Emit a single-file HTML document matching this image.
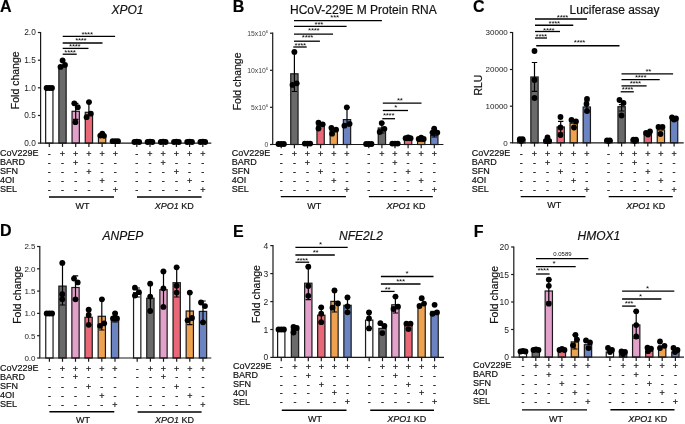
<!DOCTYPE html>
<html><head><meta charset="utf-8"><style>
html,body{margin:0;padding:0;background:#fff;width:685px;height:424px;overflow:hidden}
svg{display:block;will-change:transform;filter:blur(0.3px)}
text{font-family:"Liberation Sans", sans-serif;stroke:currentColor;stroke-width:0.18px;paint-order:stroke}
.ns{stroke:none}
</style></head><body>
<svg width="685" height="424" viewBox="0 0 685 424" font-family='"Liberation Sans", sans-serif'>
<rect width="685" height="424" fill="#fff"/>
<text x="0" y="11.6" font-size="16" font-weight="bold" fill="#000">A</text>
<text x="111.5" y="14.2" font-size="12" fill="#111" font-style="italic">XPO1</text>
<text transform="translate(18.5,80.3) rotate(-90)" text-anchor="middle" font-size="10.5" fill="#111">Fold change</text>
<rect x="45.65" y="87.8" width="7.3" height="55.3" fill="#ffffff" stroke="#1a1a1a" stroke-width="1.2"/>
<rect x="58.85" y="66.8" width="7.3" height="76.3" fill="#6a6a6a" stroke="#1a1a1a" stroke-width="1.2"/>
<rect x="72.05" y="111.3" width="7.3" height="31.8" fill="#e2a0ca" stroke="#1a1a1a" stroke-width="1.2"/>
<rect x="85.25" y="112.3" width="7.3" height="30.8" fill="#e86878" stroke="#1a1a1a" stroke-width="1.2"/>
<rect x="98.45" y="137.2" width="7.3" height="5.9" fill="#eea24f" stroke="#1a1a1a" stroke-width="1.2"/>
<rect x="111.65" y="142.2" width="7.3" height="0.9" fill="#6b83c0" stroke="#1a1a1a" stroke-width="1.2"/>
<rect x="133.15" y="142.2" width="7.3" height="0.9" fill="#ffffff" stroke="#1a1a1a" stroke-width="1.2"/>
<rect x="146.35" y="142.2" width="7.3" height="0.9" fill="#6a6a6a" stroke="#1a1a1a" stroke-width="1.2"/>
<rect x="159.55" y="142.2" width="7.3" height="0.9" fill="#e2a0ca" stroke="#1a1a1a" stroke-width="1.2"/>
<rect x="172.75" y="142.2" width="7.3" height="0.9" fill="#e86878" stroke="#1a1a1a" stroke-width="1.2"/>
<rect x="185.95" y="142.2" width="7.3" height="0.9" fill="#eea24f" stroke="#1a1a1a" stroke-width="1.2"/>
<rect x="199.15" y="142.2" width="7.3" height="0.9" fill="#6b83c0" stroke="#1a1a1a" stroke-width="1.2"/>
<path d="M40.6 31.9V143.1H211.3" fill="none" stroke="#1a1a1a" stroke-width="1.2"/>
<path d="M37.9 143.1H40.6" stroke="#1a1a1a" stroke-width="1.2"/>
<text x="35.8" y="146.07" text-anchor="end" font-size="8.3" fill="#222" class="ns">0.0</text>
<path d="M37.9 115.5H40.6" stroke="#1a1a1a" stroke-width="1.2"/>
<text x="35.8" y="118.47" text-anchor="end" font-size="8.3" fill="#222" class="ns">0.5</text>
<path d="M37.9 87.8H40.6" stroke="#1a1a1a" stroke-width="1.2"/>
<text x="35.8" y="90.77" text-anchor="end" font-size="8.3" fill="#222" class="ns">1.0</text>
<path d="M37.9 60.2H40.6" stroke="#1a1a1a" stroke-width="1.2"/>
<text x="35.8" y="63.17" text-anchor="end" font-size="8.3" fill="#222" class="ns">1.5</text>
<path d="M37.9 32.5H40.6" stroke="#1a1a1a" stroke-width="1.2"/>
<text x="35.8" y="35.47" text-anchor="end" font-size="8.3" fill="#222" class="ns">2.0</text>
<path d="M49.3 143.1V146.9" stroke="#1a1a1a" stroke-width="1.2"/>
<path d="M62.5 143.1V146.9" stroke="#1a1a1a" stroke-width="1.2"/>
<path d="M75.7 143.1V146.9" stroke="#1a1a1a" stroke-width="1.2"/>
<path d="M88.9 143.1V146.9" stroke="#1a1a1a" stroke-width="1.2"/>
<path d="M102.1 143.1V146.9" stroke="#1a1a1a" stroke-width="1.2"/>
<path d="M115.3 143.1V146.9" stroke="#1a1a1a" stroke-width="1.2"/>
<path d="M136.8 143.1V146.9" stroke="#1a1a1a" stroke-width="1.2"/>
<path d="M150 143.1V146.9" stroke="#1a1a1a" stroke-width="1.2"/>
<path d="M163.2 143.1V146.9" stroke="#1a1a1a" stroke-width="1.2"/>
<path d="M176.4 143.1V146.9" stroke="#1a1a1a" stroke-width="1.2"/>
<path d="M189.6 143.1V146.9" stroke="#1a1a1a" stroke-width="1.2"/>
<path d="M202.8 143.1V146.9" stroke="#1a1a1a" stroke-width="1.2"/>
<path d="M75.7 103.3V119.3M73 103.3H78.4M73 119.3H78.4" stroke="#000" stroke-width="1.2" fill="none"/>
<path d="M88.9 102.1V115M86.2 102.1H91.6M86.2 115H91.6" stroke="#000" stroke-width="1.2" fill="none"/>
<circle cx="46.6" cy="88" r="2.9" fill="#000"/>
<circle cx="49.3" cy="88" r="2.9" fill="#000"/>
<circle cx="52" cy="88" r="2.9" fill="#000"/>
<circle cx="62.6" cy="60.4" r="2.9" fill="#000"/>
<circle cx="60.5" cy="66.9" r="2.9" fill="#000"/>
<circle cx="65" cy="64.9" r="2.9" fill="#000"/>
<circle cx="74.3" cy="103.3" r="2.9" fill="#000"/>
<circle cx="77.8" cy="107.2" r="2.9" fill="#000"/>
<circle cx="75.4" cy="122.2" r="2.9" fill="#000"/>
<circle cx="89" cy="102.1" r="2.9" fill="#000"/>
<circle cx="90.8" cy="113.7" r="2.9" fill="#000"/>
<circle cx="86.6" cy="117.2" r="2.9" fill="#000"/>
<circle cx="100.3" cy="135.6" r="2.9" fill="#000"/>
<circle cx="102.3" cy="133.6" r="2.9" fill="#000"/>
<circle cx="104" cy="135.8" r="2.9" fill="#000"/>
<circle cx="112.6" cy="141.2" r="2.9" fill="#000"/>
<circle cx="115.3" cy="141.2" r="2.9" fill="#000"/>
<circle cx="118" cy="141.2" r="2.9" fill="#000"/>
<circle cx="134.4" cy="142" r="2.9" fill="#000"/>
<circle cx="136.8" cy="141.6" r="2.9" fill="#000"/>
<circle cx="139.2" cy="142" r="2.9" fill="#000"/>
<circle cx="147.6" cy="142" r="2.9" fill="#000"/>
<circle cx="150" cy="141.6" r="2.9" fill="#000"/>
<circle cx="152.4" cy="142" r="2.9" fill="#000"/>
<circle cx="160.8" cy="142" r="2.9" fill="#000"/>
<circle cx="163.2" cy="141.6" r="2.9" fill="#000"/>
<circle cx="165.6" cy="142" r="2.9" fill="#000"/>
<circle cx="174" cy="142" r="2.9" fill="#000"/>
<circle cx="176.4" cy="141.6" r="2.9" fill="#000"/>
<circle cx="178.8" cy="142" r="2.9" fill="#000"/>
<circle cx="187.2" cy="142" r="2.9" fill="#000"/>
<circle cx="189.6" cy="141.6" r="2.9" fill="#000"/>
<circle cx="192" cy="142" r="2.9" fill="#000"/>
<circle cx="200.4" cy="142" r="2.9" fill="#000"/>
<circle cx="202.8" cy="141.6" r="2.9" fill="#000"/>
<circle cx="205.2" cy="142" r="2.9" fill="#000"/>
<path d="M62.7 36.4H115.1" stroke="#000" stroke-width="1.3"/>
<text x="87.1" y="36.5" text-anchor="middle" font-size="8" letter-spacing="-0.3" fill="#000" class="ns">****</text>
<path d="M62.7 43H102.5" stroke="#000" stroke-width="1.3"/>
<text x="80.8" y="43.1" text-anchor="middle" font-size="8" letter-spacing="-0.3" fill="#000" class="ns">****</text>
<path d="M62.7 48.4H88.5" stroke="#000" stroke-width="1.3"/>
<text x="74.7" y="49.2" text-anchor="middle" font-size="8" letter-spacing="-0.3" fill="#000" class="ns">****</text>
<path d="M62.7 54.2H76.7" stroke="#000" stroke-width="1.3"/>
<text x="70" y="54.6" text-anchor="middle" font-size="8" letter-spacing="-0.3" fill="#000" class="ns">****</text>
<text x="0" y="155.9" font-size="9" fill="#111">CoV229E</text>
<text x="49.3" y="156.8" text-anchor="middle" font-size="9" fill="#111">-</text>
<text x="62.5" y="156.8" text-anchor="middle" font-size="9" fill="#111">+</text>
<text x="75.7" y="156.8" text-anchor="middle" font-size="9" fill="#111">+</text>
<text x="88.9" y="156.8" text-anchor="middle" font-size="9" fill="#111">+</text>
<text x="102.1" y="156.8" text-anchor="middle" font-size="9" fill="#111">+</text>
<text x="115.3" y="156.8" text-anchor="middle" font-size="9" fill="#111">+</text>
<text x="136.8" y="156.8" text-anchor="middle" font-size="9" fill="#111">-</text>
<text x="150" y="156.8" text-anchor="middle" font-size="9" fill="#111">+</text>
<text x="163.2" y="156.8" text-anchor="middle" font-size="9" fill="#111">+</text>
<text x="176.4" y="156.8" text-anchor="middle" font-size="9" fill="#111">+</text>
<text x="189.6" y="156.8" text-anchor="middle" font-size="9" fill="#111">+</text>
<text x="202.8" y="156.8" text-anchor="middle" font-size="9" fill="#111">+</text>
<text x="0" y="164.9" font-size="9" fill="#111">BARD</text>
<text x="49.3" y="165.8" text-anchor="middle" font-size="9" fill="#111">-</text>
<text x="62.5" y="165.8" text-anchor="middle" font-size="9" fill="#111">-</text>
<text x="75.7" y="165.8" text-anchor="middle" font-size="9" fill="#111">+</text>
<text x="88.9" y="165.8" text-anchor="middle" font-size="9" fill="#111">-</text>
<text x="102.1" y="165.8" text-anchor="middle" font-size="9" fill="#111">-</text>
<text x="115.3" y="165.8" text-anchor="middle" font-size="9" fill="#111">-</text>
<text x="136.8" y="165.8" text-anchor="middle" font-size="9" fill="#111">-</text>
<text x="150" y="165.8" text-anchor="middle" font-size="9" fill="#111">-</text>
<text x="163.2" y="165.8" text-anchor="middle" font-size="9" fill="#111">+</text>
<text x="176.4" y="165.8" text-anchor="middle" font-size="9" fill="#111">-</text>
<text x="189.6" y="165.8" text-anchor="middle" font-size="9" fill="#111">-</text>
<text x="202.8" y="165.8" text-anchor="middle" font-size="9" fill="#111">-</text>
<text x="0" y="173.9" font-size="9" fill="#111">SFN</text>
<text x="49.3" y="174.8" text-anchor="middle" font-size="9" fill="#111">-</text>
<text x="62.5" y="174.8" text-anchor="middle" font-size="9" fill="#111">-</text>
<text x="75.7" y="174.8" text-anchor="middle" font-size="9" fill="#111">-</text>
<text x="88.9" y="174.8" text-anchor="middle" font-size="9" fill="#111">+</text>
<text x="102.1" y="174.8" text-anchor="middle" font-size="9" fill="#111">-</text>
<text x="115.3" y="174.8" text-anchor="middle" font-size="9" fill="#111">-</text>
<text x="136.8" y="174.8" text-anchor="middle" font-size="9" fill="#111">-</text>
<text x="150" y="174.8" text-anchor="middle" font-size="9" fill="#111">-</text>
<text x="163.2" y="174.8" text-anchor="middle" font-size="9" fill="#111">-</text>
<text x="176.4" y="174.8" text-anchor="middle" font-size="9" fill="#111">+</text>
<text x="189.6" y="174.8" text-anchor="middle" font-size="9" fill="#111">-</text>
<text x="202.8" y="174.8" text-anchor="middle" font-size="9" fill="#111">-</text>
<text x="0" y="182.9" font-size="9" fill="#111">4OI</text>
<text x="49.3" y="183.8" text-anchor="middle" font-size="9" fill="#111">-</text>
<text x="62.5" y="183.8" text-anchor="middle" font-size="9" fill="#111">-</text>
<text x="75.7" y="183.8" text-anchor="middle" font-size="9" fill="#111">-</text>
<text x="88.9" y="183.8" text-anchor="middle" font-size="9" fill="#111">-</text>
<text x="102.1" y="183.8" text-anchor="middle" font-size="9" fill="#111">+</text>
<text x="115.3" y="183.8" text-anchor="middle" font-size="9" fill="#111">-</text>
<text x="136.8" y="183.8" text-anchor="middle" font-size="9" fill="#111">-</text>
<text x="150" y="183.8" text-anchor="middle" font-size="9" fill="#111">-</text>
<text x="163.2" y="183.8" text-anchor="middle" font-size="9" fill="#111">-</text>
<text x="176.4" y="183.8" text-anchor="middle" font-size="9" fill="#111">-</text>
<text x="189.6" y="183.8" text-anchor="middle" font-size="9" fill="#111">+</text>
<text x="202.8" y="183.8" text-anchor="middle" font-size="9" fill="#111">-</text>
<text x="0" y="191.9" font-size="9" fill="#111">SEL</text>
<text x="49.3" y="192.8" text-anchor="middle" font-size="9" fill="#111">-</text>
<text x="62.5" y="192.8" text-anchor="middle" font-size="9" fill="#111">-</text>
<text x="75.7" y="192.8" text-anchor="middle" font-size="9" fill="#111">-</text>
<text x="88.9" y="192.8" text-anchor="middle" font-size="9" fill="#111">-</text>
<text x="102.1" y="192.8" text-anchor="middle" font-size="9" fill="#111">-</text>
<text x="115.3" y="192.8" text-anchor="middle" font-size="9" fill="#111">+</text>
<text x="136.8" y="192.8" text-anchor="middle" font-size="9" fill="#111">-</text>
<text x="150" y="192.8" text-anchor="middle" font-size="9" fill="#111">-</text>
<text x="163.2" y="192.8" text-anchor="middle" font-size="9" fill="#111">-</text>
<text x="176.4" y="192.8" text-anchor="middle" font-size="9" fill="#111">-</text>
<text x="189.6" y="192.8" text-anchor="middle" font-size="9" fill="#111">-</text>
<text x="202.8" y="192.8" text-anchor="middle" font-size="9" fill="#111">+</text>
<path d="M49 197H114" stroke="#000" stroke-width="1.4"/>
<text x="75.6" y="209" font-size="9" fill="#111">WT</text>
<path d="M137 197H201.6" stroke="#000" stroke-width="1.4"/>
<text x="154.8" y="208.6" font-size="9" fill="#111"><tspan font-style="italic">XPO1</tspan> KD</text>
<text x="232.8" y="11.6" font-size="16" font-weight="bold" fill="#000">B</text>
<text x="290" y="13.9" font-size="12" fill="#111">HCoV-229E M Protein RNA</text>
<text transform="translate(240.9,81.4) rotate(-90)" text-anchor="middle" font-size="10.5" fill="#111">Fold change</text>
<rect x="277.55" y="143.9" width="7.3" height="0.6" fill="#ffffff" stroke="#1a1a1a" stroke-width="1.2"/>
<rect x="290.75" y="73.8" width="7.3" height="70.7" fill="#6a6a6a" stroke="#1a1a1a" stroke-width="1.2"/>
<rect x="303.85" y="143.6" width="7.3" height="0.9" fill="#e2a0ca" stroke="#1a1a1a" stroke-width="1.2"/>
<rect x="316.95" y="125.5" width="7.3" height="19" fill="#e86878" stroke="#1a1a1a" stroke-width="1.2"/>
<rect x="330.15" y="130.4" width="7.3" height="14.1" fill="#eea24f" stroke="#1a1a1a" stroke-width="1.2"/>
<rect x="343.35" y="119.6" width="7.3" height="24.9" fill="#6b83c0" stroke="#1a1a1a" stroke-width="1.2"/>
<rect x="365.15" y="143.9" width="7.3" height="0.6" fill="#ffffff" stroke="#1a1a1a" stroke-width="1.2"/>
<rect x="378.25" y="128" width="7.3" height="16.5" fill="#6a6a6a" stroke="#1a1a1a" stroke-width="1.2"/>
<rect x="391.35" y="143.6" width="7.3" height="0.9" fill="#e2a0ca" stroke="#1a1a1a" stroke-width="1.2"/>
<rect x="404.45" y="140.5" width="7.3" height="4" fill="#e86878" stroke="#1a1a1a" stroke-width="1.2"/>
<rect x="417.55" y="141.5" width="7.3" height="3" fill="#eea24f" stroke="#1a1a1a" stroke-width="1.2"/>
<rect x="430.65" y="135.5" width="7.3" height="9" fill="#6b83c0" stroke="#1a1a1a" stroke-width="1.2"/>
<path d="M272.7 32.6V144.5H443.4" fill="none" stroke="#1a1a1a" stroke-width="1.2"/>
<path d="M270 144.5H272.7" stroke="#1a1a1a" stroke-width="1.2"/>
<text x="268.3" y="146.93" text-anchor="end" font-size="6.8" fill="#444" class="ns">0</text>
<path d="M270 107.3H272.7" stroke="#1a1a1a" stroke-width="1.2"/>
<text x="268.3" y="109.73" text-anchor="end" font-size="6.8" fill="#444" class="ns">5x10<tspan font-size="4.4" dy="-2.4">6</tspan></text>
<path d="M270 70.3H272.7" stroke="#1a1a1a" stroke-width="1.2"/>
<text x="268.3" y="72.73" text-anchor="end" font-size="6.8" fill="#444" class="ns">10x10<tspan font-size="4.4" dy="-2.4">6</tspan></text>
<path d="M270 33.2H272.7" stroke="#1a1a1a" stroke-width="1.2"/>
<text x="268.3" y="35.63" text-anchor="end" font-size="6.8" fill="#444" class="ns">15x10<tspan font-size="4.4" dy="-2.4">6</tspan></text>
<path d="M281.2 144.5V148.3" stroke="#1a1a1a" stroke-width="1.2"/>
<path d="M294.4 144.5V148.3" stroke="#1a1a1a" stroke-width="1.2"/>
<path d="M307.5 144.5V148.3" stroke="#1a1a1a" stroke-width="1.2"/>
<path d="M320.6 144.5V148.3" stroke="#1a1a1a" stroke-width="1.2"/>
<path d="M333.8 144.5V148.3" stroke="#1a1a1a" stroke-width="1.2"/>
<path d="M347 144.5V148.3" stroke="#1a1a1a" stroke-width="1.2"/>
<path d="M368.8 144.5V148.3" stroke="#1a1a1a" stroke-width="1.2"/>
<path d="M381.9 144.5V148.3" stroke="#1a1a1a" stroke-width="1.2"/>
<path d="M395 144.5V148.3" stroke="#1a1a1a" stroke-width="1.2"/>
<path d="M408.1 144.5V148.3" stroke="#1a1a1a" stroke-width="1.2"/>
<path d="M421.2 144.5V148.3" stroke="#1a1a1a" stroke-width="1.2"/>
<path d="M434.3 144.5V148.3" stroke="#1a1a1a" stroke-width="1.2"/>
<path d="M294.4 51.9V91.5M291.7 51.9H297.1M291.7 91.5H297.1" stroke="#000" stroke-width="1.2" fill="none"/>
<path d="M347 107.3V126M344.3 107.3H349.7M344.3 126H349.7" stroke="#000" stroke-width="1.2" fill="none"/>
<path d="M381.9 123V133M379.2 123H384.6M379.2 133H384.6" stroke="#000" stroke-width="1.2" fill="none"/>
<path d="M434.3 128.7V137M431.6 128.7H437M431.6 137H437" stroke="#000" stroke-width="1.2" fill="none"/>
<circle cx="278.5" cy="144" r="2.9" fill="#000"/>
<circle cx="281.2" cy="144" r="2.9" fill="#000"/>
<circle cx="283.9" cy="144" r="2.9" fill="#000"/>
<circle cx="294.4" cy="51.9" r="2.9" fill="#000"/>
<circle cx="292.5" cy="84.9" r="2.9" fill="#000"/>
<circle cx="296.7" cy="83.3" r="2.9" fill="#000"/>
<circle cx="304.8" cy="143.6" r="2.9" fill="#000"/>
<circle cx="307.5" cy="143.6" r="2.9" fill="#000"/>
<circle cx="310.2" cy="143.6" r="2.9" fill="#000"/>
<circle cx="318.5" cy="122.7" r="2.9" fill="#000"/>
<circle cx="322.7" cy="124.3" r="2.9" fill="#000"/>
<circle cx="318.5" cy="128.5" r="2.9" fill="#000"/>
<circle cx="331.4" cy="127.8" r="2.9" fill="#000"/>
<circle cx="336.1" cy="129.7" r="2.9" fill="#000"/>
<circle cx="332.1" cy="133.7" r="2.9" fill="#000"/>
<circle cx="346.8" cy="107.3" r="2.9" fill="#000"/>
<circle cx="344.4" cy="125.7" r="2.9" fill="#000"/>
<circle cx="349.6" cy="123.8" r="2.9" fill="#000"/>
<circle cx="366.1" cy="144" r="2.9" fill="#000"/>
<circle cx="368.8" cy="144" r="2.9" fill="#000"/>
<circle cx="371.5" cy="144" r="2.9" fill="#000"/>
<circle cx="381.7" cy="123.1" r="2.9" fill="#000"/>
<circle cx="384.4" cy="128.8" r="2.9" fill="#000"/>
<circle cx="379.7" cy="132" r="2.9" fill="#000"/>
<circle cx="392.3" cy="143.6" r="2.9" fill="#000"/>
<circle cx="395" cy="143.6" r="2.9" fill="#000"/>
<circle cx="397.7" cy="143.6" r="2.9" fill="#000"/>
<circle cx="405.6" cy="138.2" r="2.9" fill="#000"/>
<circle cx="408.1" cy="137.4" r="2.9" fill="#000"/>
<circle cx="410.6" cy="138.2" r="2.9" fill="#000"/>
<circle cx="418.7" cy="139" r="2.9" fill="#000"/>
<circle cx="421.2" cy="137.6" r="2.9" fill="#000"/>
<circle cx="423.7" cy="139" r="2.9" fill="#000"/>
<circle cx="434.2" cy="128.7" r="2.9" fill="#000"/>
<circle cx="432.5" cy="132.6" r="2.9" fill="#000"/>
<circle cx="437.3" cy="132.6" r="2.9" fill="#000"/>
<path d="M294 20.6H381.9" stroke="#000" stroke-width="1.3"/>
<text x="334.6" y="19.9" text-anchor="middle" font-size="8" letter-spacing="-0.3" fill="#000" class="ns">***</text>
<path d="M294 26.4H346.6" stroke="#000" stroke-width="1.3"/>
<text x="318.8" y="27.2" text-anchor="middle" font-size="8" letter-spacing="-0.3" fill="#000" class="ns">***</text>
<path d="M294 34.1H333" stroke="#000" stroke-width="1.3"/>
<text x="313.7" y="33.2" text-anchor="middle" font-size="8" letter-spacing="-0.3" fill="#000" class="ns">****</text>
<path d="M294 41.2H319.9" stroke="#000" stroke-width="1.3"/>
<text x="307.5" y="40.4" text-anchor="middle" font-size="8" letter-spacing="-0.3" fill="#000" class="ns">****</text>
<path d="M293.3 47H306.7" stroke="#000" stroke-width="1.3"/>
<text x="300.2" y="48.1" text-anchor="middle" font-size="8" letter-spacing="-0.3" fill="#000" class="ns">****</text>
<path d="M382.8 103.1H421.5" stroke="#000" stroke-width="1.3"/>
<text x="399.7" y="102.6" text-anchor="middle" font-size="8" letter-spacing="-0.3" fill="#000" class="ns">**</text>
<path d="M382.8 110.5H408" stroke="#000" stroke-width="1.3"/>
<text x="395.6" y="109.6" text-anchor="middle" font-size="8" letter-spacing="-0.3" fill="#000" class="ns">*</text>
<path d="M382.3 118.7H395" stroke="#000" stroke-width="1.3"/>
<text x="388.6" y="117.9" text-anchor="middle" font-size="8" letter-spacing="-0.3" fill="#000" class="ns">****</text>
<text x="231.8" y="155.9" font-size="9" fill="#111">CoV229E</text>
<text x="281.2" y="156.8" text-anchor="middle" font-size="9" fill="#111">-</text>
<text x="294.4" y="156.8" text-anchor="middle" font-size="9" fill="#111">+</text>
<text x="307.5" y="156.8" text-anchor="middle" font-size="9" fill="#111">+</text>
<text x="320.6" y="156.8" text-anchor="middle" font-size="9" fill="#111">+</text>
<text x="333.8" y="156.8" text-anchor="middle" font-size="9" fill="#111">+</text>
<text x="347" y="156.8" text-anchor="middle" font-size="9" fill="#111">+</text>
<text x="368.8" y="156.8" text-anchor="middle" font-size="9" fill="#111">-</text>
<text x="381.9" y="156.8" text-anchor="middle" font-size="9" fill="#111">+</text>
<text x="395" y="156.8" text-anchor="middle" font-size="9" fill="#111">+</text>
<text x="408.1" y="156.8" text-anchor="middle" font-size="9" fill="#111">+</text>
<text x="421.2" y="156.8" text-anchor="middle" font-size="9" fill="#111">+</text>
<text x="434.3" y="156.8" text-anchor="middle" font-size="9" fill="#111">+</text>
<text x="231.8" y="164.9" font-size="9" fill="#111">BARD</text>
<text x="281.2" y="165.8" text-anchor="middle" font-size="9" fill="#111">-</text>
<text x="294.4" y="165.8" text-anchor="middle" font-size="9" fill="#111">-</text>
<text x="307.5" y="165.8" text-anchor="middle" font-size="9" fill="#111">+</text>
<text x="320.6" y="165.8" text-anchor="middle" font-size="9" fill="#111">-</text>
<text x="333.8" y="165.8" text-anchor="middle" font-size="9" fill="#111">-</text>
<text x="347" y="165.8" text-anchor="middle" font-size="9" fill="#111">-</text>
<text x="368.8" y="165.8" text-anchor="middle" font-size="9" fill="#111">-</text>
<text x="381.9" y="165.8" text-anchor="middle" font-size="9" fill="#111">-</text>
<text x="395" y="165.8" text-anchor="middle" font-size="9" fill="#111">+</text>
<text x="408.1" y="165.8" text-anchor="middle" font-size="9" fill="#111">-</text>
<text x="421.2" y="165.8" text-anchor="middle" font-size="9" fill="#111">-</text>
<text x="434.3" y="165.8" text-anchor="middle" font-size="9" fill="#111">-</text>
<text x="231.8" y="173.9" font-size="9" fill="#111">SFN</text>
<text x="281.2" y="174.8" text-anchor="middle" font-size="9" fill="#111">-</text>
<text x="294.4" y="174.8" text-anchor="middle" font-size="9" fill="#111">-</text>
<text x="307.5" y="174.8" text-anchor="middle" font-size="9" fill="#111">-</text>
<text x="320.6" y="174.8" text-anchor="middle" font-size="9" fill="#111">+</text>
<text x="333.8" y="174.8" text-anchor="middle" font-size="9" fill="#111">-</text>
<text x="347" y="174.8" text-anchor="middle" font-size="9" fill="#111">-</text>
<text x="368.8" y="174.8" text-anchor="middle" font-size="9" fill="#111">-</text>
<text x="381.9" y="174.8" text-anchor="middle" font-size="9" fill="#111">-</text>
<text x="395" y="174.8" text-anchor="middle" font-size="9" fill="#111">-</text>
<text x="408.1" y="174.8" text-anchor="middle" font-size="9" fill="#111">+</text>
<text x="421.2" y="174.8" text-anchor="middle" font-size="9" fill="#111">-</text>
<text x="434.3" y="174.8" text-anchor="middle" font-size="9" fill="#111">-</text>
<text x="231.8" y="182.9" font-size="9" fill="#111">4OI</text>
<text x="281.2" y="183.8" text-anchor="middle" font-size="9" fill="#111">-</text>
<text x="294.4" y="183.8" text-anchor="middle" font-size="9" fill="#111">-</text>
<text x="307.5" y="183.8" text-anchor="middle" font-size="9" fill="#111">-</text>
<text x="320.6" y="183.8" text-anchor="middle" font-size="9" fill="#111">-</text>
<text x="333.8" y="183.8" text-anchor="middle" font-size="9" fill="#111">+</text>
<text x="347" y="183.8" text-anchor="middle" font-size="9" fill="#111">-</text>
<text x="368.8" y="183.8" text-anchor="middle" font-size="9" fill="#111">-</text>
<text x="381.9" y="183.8" text-anchor="middle" font-size="9" fill="#111">-</text>
<text x="395" y="183.8" text-anchor="middle" font-size="9" fill="#111">-</text>
<text x="408.1" y="183.8" text-anchor="middle" font-size="9" fill="#111">-</text>
<text x="421.2" y="183.8" text-anchor="middle" font-size="9" fill="#111">+</text>
<text x="434.3" y="183.8" text-anchor="middle" font-size="9" fill="#111">-</text>
<text x="231.8" y="191.9" font-size="9" fill="#111">SEL</text>
<text x="281.2" y="192.8" text-anchor="middle" font-size="9" fill="#111">-</text>
<text x="294.4" y="192.8" text-anchor="middle" font-size="9" fill="#111">-</text>
<text x="307.5" y="192.8" text-anchor="middle" font-size="9" fill="#111">-</text>
<text x="320.6" y="192.8" text-anchor="middle" font-size="9" fill="#111">-</text>
<text x="333.8" y="192.8" text-anchor="middle" font-size="9" fill="#111">-</text>
<text x="347" y="192.8" text-anchor="middle" font-size="9" fill="#111">+</text>
<text x="368.8" y="192.8" text-anchor="middle" font-size="9" fill="#111">-</text>
<text x="381.9" y="192.8" text-anchor="middle" font-size="9" fill="#111">-</text>
<text x="395" y="192.8" text-anchor="middle" font-size="9" fill="#111">-</text>
<text x="408.1" y="192.8" text-anchor="middle" font-size="9" fill="#111">-</text>
<text x="421.2" y="192.8" text-anchor="middle" font-size="9" fill="#111">-</text>
<text x="434.3" y="192.8" text-anchor="middle" font-size="9" fill="#111">+</text>
<path d="M280.8 196.6H345.9" stroke="#000" stroke-width="1.4"/>
<text x="307.2" y="208.6" font-size="9" fill="#111">WT</text>
<path d="M368.9 196.6H432.8" stroke="#000" stroke-width="1.4"/>
<text x="386.4" y="208.6" font-size="9" fill="#111"><tspan font-style="italic">XPO1</tspan> KD</text>
<text x="473" y="11.6" font-size="16" font-weight="bold" fill="#000">C</text>
<text x="569.5" y="14.2" font-size="12" fill="#111">Luciferase assay</text>
<text transform="translate(481.9,85.1) rotate(-90)" text-anchor="middle" font-size="10.5" fill="#111">RLU</text>
<rect x="517.65" y="139.5" width="7.3" height="3.3" fill="#ffffff" stroke="#1a1a1a" stroke-width="1.2"/>
<rect x="530.85" y="77" width="7.3" height="65.8" fill="#6a6a6a" stroke="#1a1a1a" stroke-width="1.2"/>
<rect x="543.95" y="140" width="7.3" height="2.8" fill="#e2a0ca" stroke="#1a1a1a" stroke-width="1.2"/>
<rect x="557.05" y="127" width="7.3" height="15.8" fill="#e86878" stroke="#1a1a1a" stroke-width="1.2"/>
<rect x="570.05" y="123.2" width="7.3" height="19.6" fill="#eea24f" stroke="#1a1a1a" stroke-width="1.2"/>
<rect x="583.15" y="107" width="7.3" height="35.8" fill="#6b83c0" stroke="#1a1a1a" stroke-width="1.2"/>
<rect x="604.85" y="140.5" width="7.3" height="2.3" fill="#ffffff" stroke="#1a1a1a" stroke-width="1.2"/>
<rect x="617.95" y="106.7" width="7.3" height="36.1" fill="#6a6a6a" stroke="#1a1a1a" stroke-width="1.2"/>
<rect x="631.05" y="140" width="7.3" height="2.8" fill="#e2a0ca" stroke="#1a1a1a" stroke-width="1.2"/>
<rect x="644.15" y="134.3" width="7.3" height="8.5" fill="#e86878" stroke="#1a1a1a" stroke-width="1.2"/>
<rect x="657.25" y="130" width="7.3" height="12.8" fill="#eea24f" stroke="#1a1a1a" stroke-width="1.2"/>
<rect x="670.45" y="120.5" width="7.3" height="22.3" fill="#6b83c0" stroke="#1a1a1a" stroke-width="1.2"/>
<path d="M512.6 31.9V142.8H683.7" fill="none" stroke="#1a1a1a" stroke-width="1.2"/>
<path d="M509.9 142.8H512.6" stroke="#1a1a1a" stroke-width="1.2"/>
<text x="507.8" y="145.66" text-anchor="end" font-size="8" fill="#222" class="ns">0</text>
<path d="M509.9 106.2H512.6" stroke="#1a1a1a" stroke-width="1.2"/>
<text x="507.8" y="109.06" text-anchor="end" font-size="8" fill="#222" class="ns">10000</text>
<path d="M509.9 69.5H512.6" stroke="#1a1a1a" stroke-width="1.2"/>
<text x="507.8" y="72.36" text-anchor="end" font-size="8" fill="#222" class="ns">20000</text>
<path d="M509.9 32.5H512.6" stroke="#1a1a1a" stroke-width="1.2"/>
<text x="507.8" y="35.36" text-anchor="end" font-size="8" fill="#222" class="ns">30000</text>
<path d="M521.3 142.8V146.6" stroke="#1a1a1a" stroke-width="1.2"/>
<path d="M534.5 142.8V146.6" stroke="#1a1a1a" stroke-width="1.2"/>
<path d="M547.6 142.8V146.6" stroke="#1a1a1a" stroke-width="1.2"/>
<path d="M560.7 142.8V146.6" stroke="#1a1a1a" stroke-width="1.2"/>
<path d="M573.7 142.8V146.6" stroke="#1a1a1a" stroke-width="1.2"/>
<path d="M586.8 142.8V146.6" stroke="#1a1a1a" stroke-width="1.2"/>
<path d="M608.5 142.8V146.6" stroke="#1a1a1a" stroke-width="1.2"/>
<path d="M621.6 142.8V146.6" stroke="#1a1a1a" stroke-width="1.2"/>
<path d="M634.7 142.8V146.6" stroke="#1a1a1a" stroke-width="1.2"/>
<path d="M647.8 142.8V146.6" stroke="#1a1a1a" stroke-width="1.2"/>
<path d="M660.9 142.8V146.6" stroke="#1a1a1a" stroke-width="1.2"/>
<path d="M674.1 142.8V146.6" stroke="#1a1a1a" stroke-width="1.2"/>
<path d="M534.5 62.5V91.3M531.8 62.5H537.2M531.8 91.3H537.2" stroke="#000" stroke-width="1.2" fill="none"/>
<path d="M560.7 121.3V133M558 121.3H563.4M558 133H563.4" stroke="#000" stroke-width="1.2" fill="none"/>
<path d="M586.8 101V112M584.1 101H589.5M584.1 112H589.5" stroke="#000" stroke-width="1.2" fill="none"/>
<path d="M621.6 104.6V111M618.9 104.6H624.3M618.9 111H624.3" stroke="#000" stroke-width="1.2" fill="none"/>
<circle cx="519.8" cy="139.2" r="2.9" fill="#000"/>
<circle cx="522.6" cy="139.2" r="2.9" fill="#000"/>
<circle cx="521.2" cy="141" r="2.9" fill="#000"/>
<circle cx="534.5" cy="51" r="2.9" fill="#000"/>
<circle cx="534.5" cy="80" r="2.9" fill="#000"/>
<circle cx="534.5" cy="98" r="2.9" fill="#000"/>
<circle cx="547.5" cy="137.5" r="2.9" fill="#000"/>
<circle cx="546" cy="141" r="2.9" fill="#000"/>
<circle cx="549" cy="141" r="2.9" fill="#000"/>
<circle cx="560.5" cy="117" r="2.9" fill="#000"/>
<circle cx="560.5" cy="127.5" r="2.9" fill="#000"/>
<circle cx="560.5" cy="135" r="2.9" fill="#000"/>
<circle cx="571.5" cy="120" r="2.9" fill="#000"/>
<circle cx="576" cy="121.5" r="2.9" fill="#000"/>
<circle cx="574" cy="127.5" r="2.9" fill="#000"/>
<circle cx="587" cy="99" r="2.9" fill="#000"/>
<circle cx="586.5" cy="104" r="2.9" fill="#000"/>
<circle cx="587" cy="111" r="2.9" fill="#000"/>
<circle cx="607" cy="140.3" r="2.9" fill="#000"/>
<circle cx="609.8" cy="140.3" r="2.9" fill="#000"/>
<circle cx="608.5" cy="141" r="2.9" fill="#000"/>
<circle cx="619.5" cy="100" r="2.9" fill="#000"/>
<circle cx="623.5" cy="103" r="2.9" fill="#000"/>
<circle cx="621.5" cy="115.5" r="2.9" fill="#000"/>
<circle cx="633.4" cy="139.6" r="2.9" fill="#000"/>
<circle cx="636" cy="139.6" r="2.9" fill="#000"/>
<circle cx="634.7" cy="141" r="2.9" fill="#000"/>
<circle cx="646" cy="133" r="2.9" fill="#000"/>
<circle cx="650" cy="131.5" r="2.9" fill="#000"/>
<circle cx="648" cy="134.5" r="2.9" fill="#000"/>
<circle cx="658.5" cy="127" r="2.9" fill="#000"/>
<circle cx="662.5" cy="127" r="2.9" fill="#000"/>
<circle cx="660.5" cy="134" r="2.9" fill="#000"/>
<circle cx="672" cy="117.5" r="2.9" fill="#000"/>
<circle cx="676" cy="118.5" r="2.9" fill="#000"/>
<circle cx="674" cy="119.5" r="2.9" fill="#000"/>
<path d="M535 19H587" stroke="#000" stroke-width="1.3"/>
<text x="562.5" y="20.15" text-anchor="middle" font-size="8" letter-spacing="-0.3" fill="#000" class="ns">****</text>
<path d="M535 25.25H573.25" stroke="#000" stroke-width="1.3"/>
<text x="554.25" y="26.4" text-anchor="middle" font-size="8" letter-spacing="-0.3" fill="#000" class="ns">****</text>
<path d="M535 31.5H560" stroke="#000" stroke-width="1.3"/>
<text x="548.75" y="32.65" text-anchor="middle" font-size="8" letter-spacing="-0.3" fill="#000" class="ns">****</text>
<path d="M535 38H547" stroke="#000" stroke-width="1.3"/>
<text x="541.25" y="38.65" text-anchor="middle" font-size="8" letter-spacing="-0.3" fill="#000" class="ns">****</text>
<path d="M536.25 45.75H619.5" stroke="#000" stroke-width="1.3"/>
<text x="579.5" y="45.15" text-anchor="middle" font-size="8" letter-spacing="-0.3" fill="#000" class="ns">****</text>
<path d="M621.5 73.8H673.1" stroke="#000" stroke-width="1.3"/>
<text x="648.3" y="73.6" text-anchor="middle" font-size="8" letter-spacing="-0.3" fill="#000" class="ns">**</text>
<path d="M621.5 79.7H659.7" stroke="#000" stroke-width="1.3"/>
<text x="640.6" y="80.4" text-anchor="middle" font-size="8" letter-spacing="-0.3" fill="#000" class="ns">****</text>
<path d="M621.5 85.9H646.6" stroke="#000" stroke-width="1.3"/>
<text x="635.3" y="86.1" text-anchor="middle" font-size="8" letter-spacing="-0.3" fill="#000" class="ns">****</text>
<path d="M620.7 91.8H633.8" stroke="#000" stroke-width="1.3"/>
<text x="627.5" y="92.1" text-anchor="middle" font-size="8" letter-spacing="-0.3" fill="#000" class="ns">****</text>
<text x="471.7" y="155.9" font-size="9" fill="#111">CoV229E</text>
<text x="521.3" y="156.8" text-anchor="middle" font-size="9" fill="#111">-</text>
<text x="534.5" y="156.8" text-anchor="middle" font-size="9" fill="#111">+</text>
<text x="547.6" y="156.8" text-anchor="middle" font-size="9" fill="#111">+</text>
<text x="560.7" y="156.8" text-anchor="middle" font-size="9" fill="#111">+</text>
<text x="573.7" y="156.8" text-anchor="middle" font-size="9" fill="#111">+</text>
<text x="586.8" y="156.8" text-anchor="middle" font-size="9" fill="#111">+</text>
<text x="608.5" y="156.8" text-anchor="middle" font-size="9" fill="#111">-</text>
<text x="621.6" y="156.8" text-anchor="middle" font-size="9" fill="#111">+</text>
<text x="634.7" y="156.8" text-anchor="middle" font-size="9" fill="#111">+</text>
<text x="647.8" y="156.8" text-anchor="middle" font-size="9" fill="#111">+</text>
<text x="660.9" y="156.8" text-anchor="middle" font-size="9" fill="#111">+</text>
<text x="674.1" y="156.8" text-anchor="middle" font-size="9" fill="#111">+</text>
<text x="471.7" y="164.9" font-size="9" fill="#111">BARD</text>
<text x="521.3" y="165.8" text-anchor="middle" font-size="9" fill="#111">-</text>
<text x="534.5" y="165.8" text-anchor="middle" font-size="9" fill="#111">-</text>
<text x="547.6" y="165.8" text-anchor="middle" font-size="9" fill="#111">+</text>
<text x="560.7" y="165.8" text-anchor="middle" font-size="9" fill="#111">-</text>
<text x="573.7" y="165.8" text-anchor="middle" font-size="9" fill="#111">-</text>
<text x="586.8" y="165.8" text-anchor="middle" font-size="9" fill="#111">-</text>
<text x="608.5" y="165.8" text-anchor="middle" font-size="9" fill="#111">-</text>
<text x="621.6" y="165.8" text-anchor="middle" font-size="9" fill="#111">-</text>
<text x="634.7" y="165.8" text-anchor="middle" font-size="9" fill="#111">+</text>
<text x="647.8" y="165.8" text-anchor="middle" font-size="9" fill="#111">-</text>
<text x="660.9" y="165.8" text-anchor="middle" font-size="9" fill="#111">-</text>
<text x="674.1" y="165.8" text-anchor="middle" font-size="9" fill="#111">-</text>
<text x="471.7" y="173.9" font-size="9" fill="#111">SFN</text>
<text x="521.3" y="174.8" text-anchor="middle" font-size="9" fill="#111">-</text>
<text x="534.5" y="174.8" text-anchor="middle" font-size="9" fill="#111">-</text>
<text x="547.6" y="174.8" text-anchor="middle" font-size="9" fill="#111">-</text>
<text x="560.7" y="174.8" text-anchor="middle" font-size="9" fill="#111">+</text>
<text x="573.7" y="174.8" text-anchor="middle" font-size="9" fill="#111">-</text>
<text x="586.8" y="174.8" text-anchor="middle" font-size="9" fill="#111">-</text>
<text x="608.5" y="174.8" text-anchor="middle" font-size="9" fill="#111">-</text>
<text x="621.6" y="174.8" text-anchor="middle" font-size="9" fill="#111">-</text>
<text x="634.7" y="174.8" text-anchor="middle" font-size="9" fill="#111">-</text>
<text x="647.8" y="174.8" text-anchor="middle" font-size="9" fill="#111">+</text>
<text x="660.9" y="174.8" text-anchor="middle" font-size="9" fill="#111">-</text>
<text x="674.1" y="174.8" text-anchor="middle" font-size="9" fill="#111">-</text>
<text x="471.7" y="182.9" font-size="9" fill="#111">4OI</text>
<text x="521.3" y="183.8" text-anchor="middle" font-size="9" fill="#111">-</text>
<text x="534.5" y="183.8" text-anchor="middle" font-size="9" fill="#111">-</text>
<text x="547.6" y="183.8" text-anchor="middle" font-size="9" fill="#111">-</text>
<text x="560.7" y="183.8" text-anchor="middle" font-size="9" fill="#111">-</text>
<text x="573.7" y="183.8" text-anchor="middle" font-size="9" fill="#111">+</text>
<text x="586.8" y="183.8" text-anchor="middle" font-size="9" fill="#111">-</text>
<text x="608.5" y="183.8" text-anchor="middle" font-size="9" fill="#111">-</text>
<text x="621.6" y="183.8" text-anchor="middle" font-size="9" fill="#111">-</text>
<text x="634.7" y="183.8" text-anchor="middle" font-size="9" fill="#111">-</text>
<text x="647.8" y="183.8" text-anchor="middle" font-size="9" fill="#111">-</text>
<text x="660.9" y="183.8" text-anchor="middle" font-size="9" fill="#111">+</text>
<text x="674.1" y="183.8" text-anchor="middle" font-size="9" fill="#111">-</text>
<text x="471.7" y="191.9" font-size="9" fill="#111">SEL</text>
<text x="521.3" y="192.8" text-anchor="middle" font-size="9" fill="#111">-</text>
<text x="534.5" y="192.8" text-anchor="middle" font-size="9" fill="#111">-</text>
<text x="547.6" y="192.8" text-anchor="middle" font-size="9" fill="#111">-</text>
<text x="560.7" y="192.8" text-anchor="middle" font-size="9" fill="#111">-</text>
<text x="573.7" y="192.8" text-anchor="middle" font-size="9" fill="#111">-</text>
<text x="586.8" y="192.8" text-anchor="middle" font-size="9" fill="#111">+</text>
<text x="608.5" y="192.8" text-anchor="middle" font-size="9" fill="#111">-</text>
<text x="621.6" y="192.8" text-anchor="middle" font-size="9" fill="#111">-</text>
<text x="634.7" y="192.8" text-anchor="middle" font-size="9" fill="#111">-</text>
<text x="647.8" y="192.8" text-anchor="middle" font-size="9" fill="#111">-</text>
<text x="660.9" y="192.8" text-anchor="middle" font-size="9" fill="#111">-</text>
<text x="674.1" y="192.8" text-anchor="middle" font-size="9" fill="#111">+</text>
<path d="M520.7 196.6H585.5" stroke="#000" stroke-width="1.4"/>
<text x="547.3" y="208.4" font-size="9" fill="#111">WT</text>
<path d="M608.7 196.6H672.7" stroke="#000" stroke-width="1.4"/>
<text x="626.2" y="208.6" font-size="9" fill="#111"><tspan font-style="italic">XPO1</tspan> KD</text>
<text x="0" y="236.3" font-size="16" font-weight="bold" fill="#000">D</text>
<text x="102.5" y="239.6" font-size="12" fill="#111" font-style="italic">ANPEP</text>
<text transform="translate(21.2,294.9) rotate(-90)" text-anchor="middle" font-size="10.5" fill="#111">Fold change</text>
<rect x="45.75" y="313.5" width="7.3" height="44.5" fill="#ffffff" stroke="#1a1a1a" stroke-width="1.2"/>
<rect x="58.85" y="286.1" width="7.3" height="71.9" fill="#6a6a6a" stroke="#1a1a1a" stroke-width="1.2"/>
<rect x="71.85" y="287.5" width="7.3" height="70.5" fill="#e2a0ca" stroke="#1a1a1a" stroke-width="1.2"/>
<rect x="84.95" y="317.3" width="7.3" height="40.7" fill="#e86878" stroke="#1a1a1a" stroke-width="1.2"/>
<rect x="98.15" y="316.3" width="7.3" height="41.7" fill="#eea24f" stroke="#1a1a1a" stroke-width="1.2"/>
<rect x="111.35" y="320" width="7.3" height="38" fill="#6b83c0" stroke="#1a1a1a" stroke-width="1.2"/>
<rect x="133.55" y="292.6" width="7.3" height="65.4" fill="#ffffff" stroke="#1a1a1a" stroke-width="1.2"/>
<rect x="146.75" y="298.2" width="7.3" height="59.8" fill="#6a6a6a" stroke="#1a1a1a" stroke-width="1.2"/>
<rect x="159.85" y="289.7" width="7.3" height="68.3" fill="#e2a0ca" stroke="#1a1a1a" stroke-width="1.2"/>
<rect x="173.05" y="282.7" width="7.3" height="75.3" fill="#e86878" stroke="#1a1a1a" stroke-width="1.2"/>
<rect x="186.15" y="311" width="7.3" height="47" fill="#eea24f" stroke="#1a1a1a" stroke-width="1.2"/>
<rect x="199.35" y="311.4" width="7.3" height="46.6" fill="#6b83c0" stroke="#1a1a1a" stroke-width="1.2"/>
<path d="M39.8 245.9V358H211.3" fill="none" stroke="#1a1a1a" stroke-width="1.2"/>
<path d="M37.1 358H39.8" stroke="#1a1a1a" stroke-width="1.2"/>
<text x="35.5" y="360.86" text-anchor="end" font-size="8" fill="#222" class="ns">0.0</text>
<path d="M37.1 335.7H39.8" stroke="#1a1a1a" stroke-width="1.2"/>
<text x="35.5" y="338.56" text-anchor="end" font-size="8" fill="#222" class="ns">0.5</text>
<path d="M37.1 313.4H39.8" stroke="#1a1a1a" stroke-width="1.2"/>
<text x="35.5" y="316.26" text-anchor="end" font-size="8" fill="#222" class="ns">1.0</text>
<path d="M37.1 291.1H39.8" stroke="#1a1a1a" stroke-width="1.2"/>
<text x="35.5" y="293.96" text-anchor="end" font-size="8" fill="#222" class="ns">1.5</text>
<path d="M37.1 268.8H39.8" stroke="#1a1a1a" stroke-width="1.2"/>
<text x="35.5" y="271.66" text-anchor="end" font-size="8" fill="#222" class="ns">2.0</text>
<path d="M37.1 246.5H39.8" stroke="#1a1a1a" stroke-width="1.2"/>
<text x="35.5" y="249.36" text-anchor="end" font-size="8" fill="#222" class="ns">2.5</text>
<path d="M49.4 358V361.8" stroke="#1a1a1a" stroke-width="1.2"/>
<path d="M62.5 358V361.8" stroke="#1a1a1a" stroke-width="1.2"/>
<path d="M75.5 358V361.8" stroke="#1a1a1a" stroke-width="1.2"/>
<path d="M88.6 358V361.8" stroke="#1a1a1a" stroke-width="1.2"/>
<path d="M101.8 358V361.8" stroke="#1a1a1a" stroke-width="1.2"/>
<path d="M115 358V361.8" stroke="#1a1a1a" stroke-width="1.2"/>
<path d="M137.2 358V361.8" stroke="#1a1a1a" stroke-width="1.2"/>
<path d="M150.4 358V361.8" stroke="#1a1a1a" stroke-width="1.2"/>
<path d="M163.5 358V361.8" stroke="#1a1a1a" stroke-width="1.2"/>
<path d="M176.7 358V361.8" stroke="#1a1a1a" stroke-width="1.2"/>
<path d="M189.8 358V361.8" stroke="#1a1a1a" stroke-width="1.2"/>
<path d="M203 358V361.8" stroke="#1a1a1a" stroke-width="1.2"/>
<path d="M62.5 262.9V305M59.8 262.9H65.2M59.8 305H65.2" stroke="#000" stroke-width="1.2" fill="none"/>
<path d="M75.5 275.8V299M72.8 275.8H78.2M72.8 299H78.2" stroke="#000" stroke-width="1.2" fill="none"/>
<path d="M88.6 309.7V324.8M85.9 309.7H91.3M85.9 324.8H91.3" stroke="#000" stroke-width="1.2" fill="none"/>
<path d="M101.8 299.3V330M99.1 299.3H104.5M99.1 330H104.5" stroke="#000" stroke-width="1.2" fill="none"/>
<path d="M115 313V322M112.3 313H117.7M112.3 322H117.7" stroke="#000" stroke-width="1.2" fill="none"/>
<path d="M137.2 288V297M134.5 288H139.9M134.5 297H139.9" stroke="#000" stroke-width="1.2" fill="none"/>
<path d="M150.4 283.7V311M147.7 283.7H153.1M147.7 311H153.1" stroke="#000" stroke-width="1.2" fill="none"/>
<path d="M163.5 271.4V306.9M160.8 271.4H166.2M160.8 306.9H166.2" stroke="#000" stroke-width="1.2" fill="none"/>
<path d="M176.7 267.3V297M174 267.3H179.4M174 297H179.4" stroke="#000" stroke-width="1.2" fill="none"/>
<path d="M189.8 292.6V324.7M187.1 292.6H192.5M187.1 324.7H192.5" stroke="#000" stroke-width="1.2" fill="none"/>
<path d="M203 301V322M200.3 301H205.7M200.3 322H205.7" stroke="#000" stroke-width="1.2" fill="none"/>
<circle cx="46.7" cy="313.5" r="2.9" fill="#000"/>
<circle cx="49.4" cy="313.5" r="2.9" fill="#000"/>
<circle cx="52.1" cy="313.5" r="2.9" fill="#000"/>
<circle cx="62.3" cy="262.9" r="2.9" fill="#000"/>
<circle cx="62.3" cy="294.2" r="2.9" fill="#000"/>
<circle cx="62.3" cy="299.3" r="2.9" fill="#000"/>
<circle cx="74" cy="278.6" r="2.9" fill="#000"/>
<circle cx="77.7" cy="282.4" r="2.9" fill="#000"/>
<circle cx="75.5" cy="299.3" r="2.9" fill="#000"/>
<circle cx="88.7" cy="309.7" r="2.9" fill="#000"/>
<circle cx="88.7" cy="315" r="2.9" fill="#000"/>
<circle cx="88.7" cy="324.8" r="2.9" fill="#000"/>
<circle cx="101.9" cy="299.3" r="2.9" fill="#000"/>
<circle cx="100" cy="325.8" r="2.9" fill="#000"/>
<circle cx="104.2" cy="323.3" r="2.9" fill="#000"/>
<circle cx="115.1" cy="313.5" r="2.9" fill="#000"/>
<circle cx="113" cy="318.5" r="2.9" fill="#000"/>
<circle cx="117" cy="318.5" r="2.9" fill="#000"/>
<circle cx="134.9" cy="287.7" r="2.9" fill="#000"/>
<circle cx="138.9" cy="292.2" r="2.9" fill="#000"/>
<circle cx="134.9" cy="295.6" r="2.9" fill="#000"/>
<circle cx="150.2" cy="283.7" r="2.9" fill="#000"/>
<circle cx="150.2" cy="296.6" r="2.9" fill="#000"/>
<circle cx="150.2" cy="311" r="2.9" fill="#000"/>
<circle cx="163.4" cy="271.4" r="2.9" fill="#000"/>
<circle cx="163.4" cy="288.3" r="2.9" fill="#000"/>
<circle cx="163.4" cy="306.9" r="2.9" fill="#000"/>
<circle cx="176.6" cy="267.3" r="2.9" fill="#000"/>
<circle cx="176.6" cy="285.7" r="2.9" fill="#000"/>
<circle cx="176.6" cy="292.6" r="2.9" fill="#000"/>
<circle cx="189.8" cy="292.6" r="2.9" fill="#000"/>
<circle cx="187.6" cy="320.3" r="2.9" fill="#000"/>
<circle cx="192" cy="318" r="2.9" fill="#000"/>
<circle cx="201" cy="302.5" r="2.9" fill="#000"/>
<circle cx="205" cy="306.1" r="2.9" fill="#000"/>
<circle cx="203" cy="322.3" r="2.9" fill="#000"/>
<text x="0" y="370.6" font-size="9" fill="#111">CoV229E</text>
<text x="49.4" y="371.5" text-anchor="middle" font-size="9" fill="#111">-</text>
<text x="62.5" y="371.5" text-anchor="middle" font-size="9" fill="#111">+</text>
<text x="75.5" y="371.5" text-anchor="middle" font-size="9" fill="#111">+</text>
<text x="88.6" y="371.5" text-anchor="middle" font-size="9" fill="#111">+</text>
<text x="101.8" y="371.5" text-anchor="middle" font-size="9" fill="#111">+</text>
<text x="115" y="371.5" text-anchor="middle" font-size="9" fill="#111">+</text>
<text x="137.2" y="371.5" text-anchor="middle" font-size="9" fill="#111">-</text>
<text x="150.4" y="371.5" text-anchor="middle" font-size="9" fill="#111">+</text>
<text x="163.5" y="371.5" text-anchor="middle" font-size="9" fill="#111">+</text>
<text x="176.7" y="371.5" text-anchor="middle" font-size="9" fill="#111">+</text>
<text x="189.8" y="371.5" text-anchor="middle" font-size="9" fill="#111">+</text>
<text x="203" y="371.5" text-anchor="middle" font-size="9" fill="#111">+</text>
<text x="0" y="379.5" font-size="9" fill="#111">BARD</text>
<text x="49.4" y="380.4" text-anchor="middle" font-size="9" fill="#111">-</text>
<text x="62.5" y="380.4" text-anchor="middle" font-size="9" fill="#111">-</text>
<text x="75.5" y="380.4" text-anchor="middle" font-size="9" fill="#111">+</text>
<text x="88.6" y="380.4" text-anchor="middle" font-size="9" fill="#111">-</text>
<text x="101.8" y="380.4" text-anchor="middle" font-size="9" fill="#111">-</text>
<text x="115" y="380.4" text-anchor="middle" font-size="9" fill="#111">-</text>
<text x="137.2" y="380.4" text-anchor="middle" font-size="9" fill="#111">-</text>
<text x="150.4" y="380.4" text-anchor="middle" font-size="9" fill="#111">-</text>
<text x="163.5" y="380.4" text-anchor="middle" font-size="9" fill="#111">+</text>
<text x="176.7" y="380.4" text-anchor="middle" font-size="9" fill="#111">-</text>
<text x="189.8" y="380.4" text-anchor="middle" font-size="9" fill="#111">-</text>
<text x="203" y="380.4" text-anchor="middle" font-size="9" fill="#111">-</text>
<text x="0" y="388.6" font-size="9" fill="#111">SFN</text>
<text x="49.4" y="389.5" text-anchor="middle" font-size="9" fill="#111">-</text>
<text x="62.5" y="389.5" text-anchor="middle" font-size="9" fill="#111">-</text>
<text x="75.5" y="389.5" text-anchor="middle" font-size="9" fill="#111">-</text>
<text x="88.6" y="389.5" text-anchor="middle" font-size="9" fill="#111">+</text>
<text x="101.8" y="389.5" text-anchor="middle" font-size="9" fill="#111">-</text>
<text x="115" y="389.5" text-anchor="middle" font-size="9" fill="#111">-</text>
<text x="137.2" y="389.5" text-anchor="middle" font-size="9" fill="#111">-</text>
<text x="150.4" y="389.5" text-anchor="middle" font-size="9" fill="#111">-</text>
<text x="163.5" y="389.5" text-anchor="middle" font-size="9" fill="#111">-</text>
<text x="176.7" y="389.5" text-anchor="middle" font-size="9" fill="#111">+</text>
<text x="189.8" y="389.5" text-anchor="middle" font-size="9" fill="#111">-</text>
<text x="203" y="389.5" text-anchor="middle" font-size="9" fill="#111">-</text>
<text x="0" y="397.6" font-size="9" fill="#111">4OI</text>
<text x="49.4" y="398.5" text-anchor="middle" font-size="9" fill="#111">-</text>
<text x="62.5" y="398.5" text-anchor="middle" font-size="9" fill="#111">-</text>
<text x="75.5" y="398.5" text-anchor="middle" font-size="9" fill="#111">-</text>
<text x="88.6" y="398.5" text-anchor="middle" font-size="9" fill="#111">-</text>
<text x="101.8" y="398.5" text-anchor="middle" font-size="9" fill="#111">+</text>
<text x="115" y="398.5" text-anchor="middle" font-size="9" fill="#111">-</text>
<text x="137.2" y="398.5" text-anchor="middle" font-size="9" fill="#111">-</text>
<text x="150.4" y="398.5" text-anchor="middle" font-size="9" fill="#111">-</text>
<text x="163.5" y="398.5" text-anchor="middle" font-size="9" fill="#111">-</text>
<text x="176.7" y="398.5" text-anchor="middle" font-size="9" fill="#111">-</text>
<text x="189.8" y="398.5" text-anchor="middle" font-size="9" fill="#111">+</text>
<text x="203" y="398.5" text-anchor="middle" font-size="9" fill="#111">-</text>
<text x="0" y="406.7" font-size="9" fill="#111">SEL</text>
<text x="49.4" y="407.6" text-anchor="middle" font-size="9" fill="#111">-</text>
<text x="62.5" y="407.6" text-anchor="middle" font-size="9" fill="#111">-</text>
<text x="75.5" y="407.6" text-anchor="middle" font-size="9" fill="#111">-</text>
<text x="88.6" y="407.6" text-anchor="middle" font-size="9" fill="#111">-</text>
<text x="101.8" y="407.6" text-anchor="middle" font-size="9" fill="#111">-</text>
<text x="115" y="407.6" text-anchor="middle" font-size="9" fill="#111">+</text>
<text x="137.2" y="407.6" text-anchor="middle" font-size="9" fill="#111">-</text>
<text x="150.4" y="407.6" text-anchor="middle" font-size="9" fill="#111">-</text>
<text x="163.5" y="407.6" text-anchor="middle" font-size="9" fill="#111">-</text>
<text x="176.7" y="407.6" text-anchor="middle" font-size="9" fill="#111">-</text>
<text x="189.8" y="407.6" text-anchor="middle" font-size="9" fill="#111">-</text>
<text x="203" y="407.6" text-anchor="middle" font-size="9" fill="#111">+</text>
<path d="M49.4 411.8H114.3" stroke="#000" stroke-width="1.4"/>
<text x="76" y="423.3" font-size="9" fill="#111">WT</text>
<path d="M137.6 412H201.6" stroke="#000" stroke-width="1.4"/>
<text x="154.9" y="423" font-size="9" fill="#111"><tspan font-style="italic">XPO1</tspan> KD</text>
<text x="233" y="237" font-size="16" font-weight="bold" fill="#000">E</text>
<text x="339" y="239.5" font-size="12" fill="#111" font-style="italic">NFE2L2</text>
<text transform="translate(259.8,294) rotate(-90)" text-anchor="middle" font-size="10.5" fill="#111">Fold change</text>
<rect x="277.6" y="329.5" width="7.3" height="27.9" fill="#ffffff" stroke="#1a1a1a" stroke-width="1.2"/>
<rect x="291.35" y="329.5" width="7.3" height="27.9" fill="#6a6a6a" stroke="#1a1a1a" stroke-width="1.2"/>
<rect x="304.65" y="283.2" width="7.3" height="74.2" fill="#e2a0ca" stroke="#1a1a1a" stroke-width="1.2"/>
<rect x="317.65" y="315.2" width="7.3" height="42.2" fill="#e86878" stroke="#1a1a1a" stroke-width="1.2"/>
<rect x="330.85" y="301.4" width="7.3" height="56" fill="#eea24f" stroke="#1a1a1a" stroke-width="1.2"/>
<rect x="343.85" y="305.3" width="7.3" height="52.1" fill="#6b83c0" stroke="#1a1a1a" stroke-width="1.2"/>
<rect x="365.55" y="320.1" width="7.3" height="37.3" fill="#ffffff" stroke="#1a1a1a" stroke-width="1.2"/>
<rect x="378.85" y="328.4" width="7.3" height="29" fill="#6a6a6a" stroke="#1a1a1a" stroke-width="1.2"/>
<rect x="391.75" y="304.8" width="7.3" height="52.6" fill="#e2a0ca" stroke="#1a1a1a" stroke-width="1.2"/>
<rect x="404.75" y="324.9" width="7.3" height="32.5" fill="#e86878" stroke="#1a1a1a" stroke-width="1.2"/>
<rect x="417.95" y="304.8" width="7.3" height="52.6" fill="#eea24f" stroke="#1a1a1a" stroke-width="1.2"/>
<rect x="430.95" y="311.4" width="7.3" height="46" fill="#6b83c0" stroke="#1a1a1a" stroke-width="1.2"/>
<path d="M273 245V357.4H444" fill="none" stroke="#1a1a1a" stroke-width="1.2"/>
<path d="M270.3 357.4H273" stroke="#1a1a1a" stroke-width="1.2"/>
<text x="268.3" y="360.44" text-anchor="end" font-size="8.5" fill="#222" class="ns">0</text>
<path d="M270.3 329.5H273" stroke="#1a1a1a" stroke-width="1.2"/>
<text x="268.3" y="332.54" text-anchor="end" font-size="8.5" fill="#222" class="ns">1</text>
<path d="M270.3 301.6H273" stroke="#1a1a1a" stroke-width="1.2"/>
<text x="268.3" y="304.64" text-anchor="end" font-size="8.5" fill="#222" class="ns">2</text>
<path d="M270.3 273.6H273" stroke="#1a1a1a" stroke-width="1.2"/>
<text x="268.3" y="276.64" text-anchor="end" font-size="8.5" fill="#222" class="ns">3</text>
<path d="M270.3 245.6H273" stroke="#1a1a1a" stroke-width="1.2"/>
<text x="268.3" y="248.64" text-anchor="end" font-size="8.5" fill="#222" class="ns">4</text>
<path d="M281.25 357.4V361.2" stroke="#1a1a1a" stroke-width="1.2"/>
<path d="M295 357.4V361.2" stroke="#1a1a1a" stroke-width="1.2"/>
<path d="M308.3 357.4V361.2" stroke="#1a1a1a" stroke-width="1.2"/>
<path d="M321.3 357.4V361.2" stroke="#1a1a1a" stroke-width="1.2"/>
<path d="M334.5 357.4V361.2" stroke="#1a1a1a" stroke-width="1.2"/>
<path d="M347.5 357.4V361.2" stroke="#1a1a1a" stroke-width="1.2"/>
<path d="M369.2 357.4V361.2" stroke="#1a1a1a" stroke-width="1.2"/>
<path d="M382.5 357.4V361.2" stroke="#1a1a1a" stroke-width="1.2"/>
<path d="M395.4 357.4V361.2" stroke="#1a1a1a" stroke-width="1.2"/>
<path d="M408.4 357.4V361.2" stroke="#1a1a1a" stroke-width="1.2"/>
<path d="M421.6 357.4V361.2" stroke="#1a1a1a" stroke-width="1.2"/>
<path d="M434.6 357.4V361.2" stroke="#1a1a1a" stroke-width="1.2"/>
<path d="M308.3 266.7V299.7M305.6 266.7H311M305.6 299.7H311" stroke="#000" stroke-width="1.2" fill="none"/>
<path d="M321.3 307.3V323M318.6 307.3H324M318.6 323H324" stroke="#000" stroke-width="1.2" fill="none"/>
<path d="M334.5 290.5V312M331.8 290.5H337.2M331.8 312H337.2" stroke="#000" stroke-width="1.2" fill="none"/>
<path d="M347.5 297.4V313M344.8 297.4H350.2M344.8 313H350.2" stroke="#000" stroke-width="1.2" fill="none"/>
<path d="M369.2 312.4V328.4M366.5 312.4H371.9M366.5 328.4H371.9" stroke="#000" stroke-width="1.2" fill="none"/>
<path d="M395.4 296.6V313M392.7 296.6H398.1M392.7 313H398.1" stroke="#000" stroke-width="1.2" fill="none"/>
<circle cx="278.55" cy="329.5" r="2.9" fill="#000"/>
<circle cx="281.25" cy="329.5" r="2.9" fill="#000"/>
<circle cx="283.95" cy="329.5" r="2.9" fill="#000"/>
<circle cx="293.5" cy="327" r="2.9" fill="#000"/>
<circle cx="296.75" cy="328" r="2.9" fill="#000"/>
<circle cx="293.5" cy="332.5" r="2.9" fill="#000"/>
<circle cx="308.3" cy="266.7" r="2.9" fill="#000"/>
<circle cx="308.3" cy="286" r="2.9" fill="#000"/>
<circle cx="308.3" cy="295.8" r="2.9" fill="#000"/>
<circle cx="321.2" cy="307.3" r="2.9" fill="#000"/>
<circle cx="321.2" cy="313.7" r="2.9" fill="#000"/>
<circle cx="321.2" cy="322.2" r="2.9" fill="#000"/>
<circle cx="334.5" cy="290.5" r="2.9" fill="#000"/>
<circle cx="338" cy="303.4" r="2.9" fill="#000"/>
<circle cx="332.5" cy="307.7" r="2.9" fill="#000"/>
<circle cx="347.5" cy="297.4" r="2.9" fill="#000"/>
<circle cx="347.5" cy="306.3" r="2.9" fill="#000"/>
<circle cx="347.5" cy="312.3" r="2.9" fill="#000"/>
<circle cx="369" cy="312.4" r="2.9" fill="#000"/>
<circle cx="369" cy="318.5" r="2.9" fill="#000"/>
<circle cx="369" cy="328.4" r="2.9" fill="#000"/>
<circle cx="380.4" cy="323.2" r="2.9" fill="#000"/>
<circle cx="384.4" cy="326" r="2.9" fill="#000"/>
<circle cx="382.3" cy="333.1" r="2.9" fill="#000"/>
<circle cx="395.5" cy="296.6" r="2.9" fill="#000"/>
<circle cx="393.5" cy="309" r="2.9" fill="#000"/>
<circle cx="398" cy="306.7" r="2.9" fill="#000"/>
<circle cx="406.4" cy="323.7" r="2.9" fill="#000"/>
<circle cx="410.5" cy="323.7" r="2.9" fill="#000"/>
<circle cx="408.4" cy="329.1" r="2.9" fill="#000"/>
<circle cx="421.7" cy="298.2" r="2.9" fill="#000"/>
<circle cx="419.5" cy="306" r="2.9" fill="#000"/>
<circle cx="424" cy="303.6" r="2.9" fill="#000"/>
<circle cx="434.6" cy="304.8" r="2.9" fill="#000"/>
<circle cx="432.5" cy="313.8" r="2.9" fill="#000"/>
<circle cx="437" cy="312.4" r="2.9" fill="#000"/>
<path d="M295.4 247.3H347.7" stroke="#000" stroke-width="1.3"/>
<text x="320.5" y="247" text-anchor="middle" font-size="8" letter-spacing="-0.3" fill="#000" class="ns">*</text>
<path d="M295.4 255H334.8" stroke="#000" stroke-width="1.3"/>
<text x="315.6" y="255.3" text-anchor="middle" font-size="8" letter-spacing="-0.3" fill="#000" class="ns">**</text>
<path d="M295.4 262.2H309.2" stroke="#000" stroke-width="1.3"/>
<text x="302.3" y="262.6" text-anchor="middle" font-size="8" letter-spacing="-0.3" fill="#000" class="ns">****</text>
<path d="M380.9 276.5H433.5" stroke="#000" stroke-width="1.3"/>
<text x="406.8" y="275.7" text-anchor="middle" font-size="8" letter-spacing="-0.3" fill="#000" class="ns">*</text>
<path d="M380.9 284H420.5" stroke="#000" stroke-width="1.3"/>
<text x="400.5" y="284.2" text-anchor="middle" font-size="8" letter-spacing="-0.3" fill="#000" class="ns">***</text>
<path d="M380.9 291.4H394.6" stroke="#000" stroke-width="1.3"/>
<text x="387.5" y="292.2" text-anchor="middle" font-size="8" letter-spacing="-0.3" fill="#000" class="ns">**</text>
<text x="232.9" y="368.9" font-size="9" fill="#111">CoV229E</text>
<text x="281.25" y="369.8" text-anchor="middle" font-size="9" fill="#111">-</text>
<text x="295" y="369.8" text-anchor="middle" font-size="9" fill="#111">+</text>
<text x="308.3" y="369.8" text-anchor="middle" font-size="9" fill="#111">+</text>
<text x="321.3" y="369.8" text-anchor="middle" font-size="9" fill="#111">+</text>
<text x="334.5" y="369.8" text-anchor="middle" font-size="9" fill="#111">+</text>
<text x="347.5" y="369.8" text-anchor="middle" font-size="9" fill="#111">+</text>
<text x="369.2" y="369.8" text-anchor="middle" font-size="9" fill="#111">-</text>
<text x="382.5" y="369.8" text-anchor="middle" font-size="9" fill="#111">+</text>
<text x="395.4" y="369.8" text-anchor="middle" font-size="9" fill="#111">+</text>
<text x="408.4" y="369.8" text-anchor="middle" font-size="9" fill="#111">+</text>
<text x="421.6" y="369.8" text-anchor="middle" font-size="9" fill="#111">+</text>
<text x="434.6" y="369.8" text-anchor="middle" font-size="9" fill="#111">+</text>
<text x="232.9" y="377.7" font-size="9" fill="#111">BARD</text>
<text x="281.25" y="378.6" text-anchor="middle" font-size="9" fill="#111">-</text>
<text x="295" y="378.6" text-anchor="middle" font-size="9" fill="#111">-</text>
<text x="308.3" y="378.6" text-anchor="middle" font-size="9" fill="#111">+</text>
<text x="321.3" y="378.6" text-anchor="middle" font-size="9" fill="#111">-</text>
<text x="334.5" y="378.6" text-anchor="middle" font-size="9" fill="#111">-</text>
<text x="347.5" y="378.6" text-anchor="middle" font-size="9" fill="#111">-</text>
<text x="369.2" y="378.6" text-anchor="middle" font-size="9" fill="#111">-</text>
<text x="382.5" y="378.6" text-anchor="middle" font-size="9" fill="#111">-</text>
<text x="395.4" y="378.6" text-anchor="middle" font-size="9" fill="#111">+</text>
<text x="408.4" y="378.6" text-anchor="middle" font-size="9" fill="#111">-</text>
<text x="421.6" y="378.6" text-anchor="middle" font-size="9" fill="#111">-</text>
<text x="434.6" y="378.6" text-anchor="middle" font-size="9" fill="#111">-</text>
<text x="232.9" y="386.7" font-size="9" fill="#111">SFN</text>
<text x="281.25" y="387.6" text-anchor="middle" font-size="9" fill="#111">-</text>
<text x="295" y="387.6" text-anchor="middle" font-size="9" fill="#111">-</text>
<text x="308.3" y="387.6" text-anchor="middle" font-size="9" fill="#111">-</text>
<text x="321.3" y="387.6" text-anchor="middle" font-size="9" fill="#111">+</text>
<text x="334.5" y="387.6" text-anchor="middle" font-size="9" fill="#111">-</text>
<text x="347.5" y="387.6" text-anchor="middle" font-size="9" fill="#111">-</text>
<text x="369.2" y="387.6" text-anchor="middle" font-size="9" fill="#111">-</text>
<text x="382.5" y="387.6" text-anchor="middle" font-size="9" fill="#111">-</text>
<text x="395.4" y="387.6" text-anchor="middle" font-size="9" fill="#111">-</text>
<text x="408.4" y="387.6" text-anchor="middle" font-size="9" fill="#111">+</text>
<text x="421.6" y="387.6" text-anchor="middle" font-size="9" fill="#111">-</text>
<text x="434.6" y="387.6" text-anchor="middle" font-size="9" fill="#111">-</text>
<text x="232.9" y="395.5" font-size="9" fill="#111">4OI</text>
<text x="281.25" y="396.4" text-anchor="middle" font-size="9" fill="#111">-</text>
<text x="295" y="396.4" text-anchor="middle" font-size="9" fill="#111">-</text>
<text x="308.3" y="396.4" text-anchor="middle" font-size="9" fill="#111">-</text>
<text x="321.3" y="396.4" text-anchor="middle" font-size="9" fill="#111">-</text>
<text x="334.5" y="396.4" text-anchor="middle" font-size="9" fill="#111">+</text>
<text x="347.5" y="396.4" text-anchor="middle" font-size="9" fill="#111">-</text>
<text x="369.2" y="396.4" text-anchor="middle" font-size="9" fill="#111">-</text>
<text x="382.5" y="396.4" text-anchor="middle" font-size="9" fill="#111">-</text>
<text x="395.4" y="396.4" text-anchor="middle" font-size="9" fill="#111">-</text>
<text x="408.4" y="396.4" text-anchor="middle" font-size="9" fill="#111">-</text>
<text x="421.6" y="396.4" text-anchor="middle" font-size="9" fill="#111">+</text>
<text x="434.6" y="396.4" text-anchor="middle" font-size="9" fill="#111">-</text>
<text x="232.9" y="404.5" font-size="9" fill="#111">SEL</text>
<text x="281.25" y="405.4" text-anchor="middle" font-size="9" fill="#111">-</text>
<text x="295" y="405.4" text-anchor="middle" font-size="9" fill="#111">-</text>
<text x="308.3" y="405.4" text-anchor="middle" font-size="9" fill="#111">-</text>
<text x="321.3" y="405.4" text-anchor="middle" font-size="9" fill="#111">-</text>
<text x="334.5" y="405.4" text-anchor="middle" font-size="9" fill="#111">-</text>
<text x="347.5" y="405.4" text-anchor="middle" font-size="9" fill="#111">+</text>
<text x="369.2" y="405.4" text-anchor="middle" font-size="9" fill="#111">-</text>
<text x="382.5" y="405.4" text-anchor="middle" font-size="9" fill="#111">-</text>
<text x="395.4" y="405.4" text-anchor="middle" font-size="9" fill="#111">-</text>
<text x="408.4" y="405.4" text-anchor="middle" font-size="9" fill="#111">-</text>
<text x="421.6" y="405.4" text-anchor="middle" font-size="9" fill="#111">-</text>
<text x="434.6" y="405.4" text-anchor="middle" font-size="9" fill="#111">+</text>
<path d="M281.8 410.3H346.5" stroke="#000" stroke-width="1.4"/>
<text x="308" y="421.6" font-size="9" fill="#111">WT</text>
<path d="M370.2 410.2H434" stroke="#000" stroke-width="1.4"/>
<text x="387.2" y="421.5" font-size="9" fill="#111"><tspan font-style="italic">XPO1</tspan> KD</text>
<text x="473.75" y="237" font-size="16" font-weight="bold" fill="#000">F</text>
<text x="577.5" y="239.5" font-size="12" fill="#111" font-style="italic">HMOX1</text>
<text transform="translate(498,294.9) rotate(-90)" text-anchor="middle" font-size="10.5" fill="#111">Fold change</text>
<rect x="519.25" y="351.6" width="7.3" height="5.5" fill="#ffffff" stroke="#1a1a1a" stroke-width="1.2"/>
<rect x="532.15" y="350.5" width="7.3" height="6.6" fill="#6a6a6a" stroke="#1a1a1a" stroke-width="1.2"/>
<rect x="545.15" y="291" width="7.3" height="66.1" fill="#e2a0ca" stroke="#1a1a1a" stroke-width="1.2"/>
<rect x="558.25" y="351" width="7.3" height="6.1" fill="#e86878" stroke="#1a1a1a" stroke-width="1.2"/>
<rect x="571.25" y="341.9" width="7.3" height="15.2" fill="#eea24f" stroke="#1a1a1a" stroke-width="1.2"/>
<rect x="584.35" y="344.7" width="7.3" height="12.4" fill="#6b83c0" stroke="#1a1a1a" stroke-width="1.2"/>
<rect x="606.25" y="352" width="7.3" height="5.1" fill="#ffffff" stroke="#1a1a1a" stroke-width="1.2"/>
<rect x="619.45" y="353" width="7.3" height="4.1" fill="#6a6a6a" stroke="#1a1a1a" stroke-width="1.2"/>
<rect x="632.55" y="324.9" width="7.3" height="32.2" fill="#e2a0ca" stroke="#1a1a1a" stroke-width="1.2"/>
<rect x="645.65" y="351.2" width="7.3" height="5.9" fill="#e86878" stroke="#1a1a1a" stroke-width="1.2"/>
<rect x="658.55" y="346.1" width="7.3" height="11" fill="#eea24f" stroke="#1a1a1a" stroke-width="1.2"/>
<rect x="671.75" y="352" width="7.3" height="5.1" fill="#6b83c0" stroke="#1a1a1a" stroke-width="1.2"/>
<path d="M513.8 246.4V357.1H684" fill="none" stroke="#1a1a1a" stroke-width="1.2"/>
<path d="M511.1 357.1H513.8" stroke="#1a1a1a" stroke-width="1.2"/>
<text x="509" y="360.14" text-anchor="end" font-size="8.5" fill="#222" class="ns">0</text>
<path d="M511.1 329.5H513.8" stroke="#1a1a1a" stroke-width="1.2"/>
<text x="509" y="332.54" text-anchor="end" font-size="8.5" fill="#222" class="ns">5</text>
<path d="M511.1 302H513.8" stroke="#1a1a1a" stroke-width="1.2"/>
<text x="509" y="305.04" text-anchor="end" font-size="8.5" fill="#222" class="ns">10</text>
<path d="M511.1 274.5H513.8" stroke="#1a1a1a" stroke-width="1.2"/>
<text x="509" y="277.54" text-anchor="end" font-size="8.5" fill="#222" class="ns">15</text>
<path d="M511.1 247H513.8" stroke="#1a1a1a" stroke-width="1.2"/>
<text x="509" y="250.04" text-anchor="end" font-size="8.5" fill="#222" class="ns">20</text>
<path d="M522.9 357.1V360.9" stroke="#1a1a1a" stroke-width="1.2"/>
<path d="M535.8 357.1V360.9" stroke="#1a1a1a" stroke-width="1.2"/>
<path d="M548.8 357.1V360.9" stroke="#1a1a1a" stroke-width="1.2"/>
<path d="M561.9 357.1V360.9" stroke="#1a1a1a" stroke-width="1.2"/>
<path d="M574.9 357.1V360.9" stroke="#1a1a1a" stroke-width="1.2"/>
<path d="M588 357.1V360.9" stroke="#1a1a1a" stroke-width="1.2"/>
<path d="M609.9 357.1V360.9" stroke="#1a1a1a" stroke-width="1.2"/>
<path d="M623.1 357.1V360.9" stroke="#1a1a1a" stroke-width="1.2"/>
<path d="M636.2 357.1V360.9" stroke="#1a1a1a" stroke-width="1.2"/>
<path d="M649.3 357.1V360.9" stroke="#1a1a1a" stroke-width="1.2"/>
<path d="M662.2 357.1V360.9" stroke="#1a1a1a" stroke-width="1.2"/>
<path d="M675.4 357.1V360.9" stroke="#1a1a1a" stroke-width="1.2"/>
<path d="M548.8 279.6V302M546.1 279.6H551.5M546.1 302H551.5" stroke="#000" stroke-width="1.2" fill="none"/>
<path d="M574.9 335V349M572.2 335H577.6M572.2 349H577.6" stroke="#000" stroke-width="1.2" fill="none"/>
<path d="M636.2 311.3V338.5M633.5 311.3H638.9M633.5 338.5H638.9" stroke="#000" stroke-width="1.2" fill="none"/>
<circle cx="520.5" cy="351.5" r="2.9" fill="#000"/>
<circle cx="523" cy="351" r="2.9" fill="#000"/>
<circle cx="525.5" cy="351.5" r="2.9" fill="#000"/>
<circle cx="533.5" cy="350" r="2.9" fill="#000"/>
<circle cx="536" cy="349.5" r="2.9" fill="#000"/>
<circle cx="538.5" cy="350" r="2.9" fill="#000"/>
<circle cx="548.8" cy="279.6" r="2.9" fill="#000"/>
<circle cx="548.8" cy="285.8" r="2.9" fill="#000"/>
<circle cx="548.8" cy="303.7" r="2.9" fill="#000"/>
<circle cx="559.5" cy="350" r="2.9" fill="#000"/>
<circle cx="562" cy="349" r="2.9" fill="#000"/>
<circle cx="564.5" cy="350" r="2.9" fill="#000"/>
<circle cx="575.5" cy="334.8" r="2.9" fill="#000"/>
<circle cx="577" cy="339.6" r="2.9" fill="#000"/>
<circle cx="573" cy="345.3" r="2.9" fill="#000"/>
<circle cx="586" cy="340.5" r="2.9" fill="#000"/>
<circle cx="590" cy="342.4" r="2.9" fill="#000"/>
<circle cx="588.5" cy="348.1" r="2.9" fill="#000"/>
<circle cx="608" cy="348" r="2.9" fill="#000"/>
<circle cx="612" cy="350" r="2.9" fill="#000"/>
<circle cx="610" cy="352" r="2.9" fill="#000"/>
<circle cx="621.5" cy="351.5" r="2.9" fill="#000"/>
<circle cx="625" cy="352" r="2.9" fill="#000"/>
<circle cx="623" cy="354" r="2.9" fill="#000"/>
<circle cx="636.2" cy="311.3" r="2.9" fill="#000"/>
<circle cx="636.2" cy="325.1" r="2.9" fill="#000"/>
<circle cx="636.2" cy="336.5" r="2.9" fill="#000"/>
<circle cx="647.5" cy="347.7" r="2.9" fill="#000"/>
<circle cx="651" cy="348.7" r="2.9" fill="#000"/>
<circle cx="648" cy="351.2" r="2.9" fill="#000"/>
<circle cx="660" cy="341.5" r="2.9" fill="#000"/>
<circle cx="664.5" cy="345.8" r="2.9" fill="#000"/>
<circle cx="660" cy="348.1" r="2.9" fill="#000"/>
<circle cx="673.5" cy="348" r="2.9" fill="#000"/>
<circle cx="677.5" cy="350" r="2.9" fill="#000"/>
<circle cx="675" cy="352" r="2.9" fill="#000"/>
<path d="M536 258.7H588.4" stroke="#000" stroke-width="1.3"/>
<text x="562.4" y="256.3" text-anchor="middle" font-size="6" fill="#111" class="ns">0.0589</text>
<path d="M536 266.6H575.7" stroke="#000" stroke-width="1.3"/>
<text x="553.9" y="266" text-anchor="middle" font-size="8" letter-spacing="-0.3" fill="#000" class="ns">*</text>
<path d="M536 274H549.6" stroke="#000" stroke-width="1.3"/>
<text x="543.1" y="272.5" text-anchor="middle" font-size="8" letter-spacing="-0.3" fill="#000" class="ns">****</text>
<path d="M622.1 291.2H674.3" stroke="#000" stroke-width="1.3"/>
<text x="647.3" y="290.8" text-anchor="middle" font-size="8" letter-spacing="-0.3" fill="#000" class="ns">*</text>
<path d="M622.1 299H661.4" stroke="#000" stroke-width="1.3"/>
<text x="640.5" y="298.9" text-anchor="middle" font-size="8" letter-spacing="-0.3" fill="#000" class="ns">*</text>
<path d="M622.1 306.1H635.7" stroke="#000" stroke-width="1.3"/>
<text x="628.9" y="306.2" text-anchor="middle" font-size="8" letter-spacing="-0.3" fill="#000" class="ns">***</text>
<text x="473.1" y="368.3" font-size="9" fill="#111">CoV229E</text>
<text x="522.9" y="369.2" text-anchor="middle" font-size="9" fill="#111">-</text>
<text x="535.8" y="369.2" text-anchor="middle" font-size="9" fill="#111">+</text>
<text x="548.8" y="369.2" text-anchor="middle" font-size="9" fill="#111">+</text>
<text x="561.9" y="369.2" text-anchor="middle" font-size="9" fill="#111">+</text>
<text x="574.9" y="369.2" text-anchor="middle" font-size="9" fill="#111">+</text>
<text x="588" y="369.2" text-anchor="middle" font-size="9" fill="#111">+</text>
<text x="609.9" y="369.2" text-anchor="middle" font-size="9" fill="#111">-</text>
<text x="623.1" y="369.2" text-anchor="middle" font-size="9" fill="#111">+</text>
<text x="636.2" y="369.2" text-anchor="middle" font-size="9" fill="#111">+</text>
<text x="649.3" y="369.2" text-anchor="middle" font-size="9" fill="#111">+</text>
<text x="662.2" y="369.2" text-anchor="middle" font-size="9" fill="#111">+</text>
<text x="675.4" y="369.2" text-anchor="middle" font-size="9" fill="#111">+</text>
<text x="473.1" y="377.4" font-size="9" fill="#111">BARD</text>
<text x="522.9" y="378.3" text-anchor="middle" font-size="9" fill="#111">-</text>
<text x="535.8" y="378.3" text-anchor="middle" font-size="9" fill="#111">-</text>
<text x="548.8" y="378.3" text-anchor="middle" font-size="9" fill="#111">+</text>
<text x="561.9" y="378.3" text-anchor="middle" font-size="9" fill="#111">-</text>
<text x="574.9" y="378.3" text-anchor="middle" font-size="9" fill="#111">-</text>
<text x="588" y="378.3" text-anchor="middle" font-size="9" fill="#111">-</text>
<text x="609.9" y="378.3" text-anchor="middle" font-size="9" fill="#111">-</text>
<text x="623.1" y="378.3" text-anchor="middle" font-size="9" fill="#111">-</text>
<text x="636.2" y="378.3" text-anchor="middle" font-size="9" fill="#111">+</text>
<text x="649.3" y="378.3" text-anchor="middle" font-size="9" fill="#111">-</text>
<text x="662.2" y="378.3" text-anchor="middle" font-size="9" fill="#111">-</text>
<text x="675.4" y="378.3" text-anchor="middle" font-size="9" fill="#111">-</text>
<text x="473.1" y="386.3" font-size="9" fill="#111">SFN</text>
<text x="522.9" y="387.2" text-anchor="middle" font-size="9" fill="#111">-</text>
<text x="535.8" y="387.2" text-anchor="middle" font-size="9" fill="#111">-</text>
<text x="548.8" y="387.2" text-anchor="middle" font-size="9" fill="#111">-</text>
<text x="561.9" y="387.2" text-anchor="middle" font-size="9" fill="#111">+</text>
<text x="574.9" y="387.2" text-anchor="middle" font-size="9" fill="#111">-</text>
<text x="588" y="387.2" text-anchor="middle" font-size="9" fill="#111">-</text>
<text x="609.9" y="387.2" text-anchor="middle" font-size="9" fill="#111">-</text>
<text x="623.1" y="387.2" text-anchor="middle" font-size="9" fill="#111">-</text>
<text x="636.2" y="387.2" text-anchor="middle" font-size="9" fill="#111">-</text>
<text x="649.3" y="387.2" text-anchor="middle" font-size="9" fill="#111">+</text>
<text x="662.2" y="387.2" text-anchor="middle" font-size="9" fill="#111">-</text>
<text x="675.4" y="387.2" text-anchor="middle" font-size="9" fill="#111">-</text>
<text x="473.1" y="395" font-size="9" fill="#111">4OI</text>
<text x="522.9" y="395.9" text-anchor="middle" font-size="9" fill="#111">-</text>
<text x="535.8" y="395.9" text-anchor="middle" font-size="9" fill="#111">-</text>
<text x="548.8" y="395.9" text-anchor="middle" font-size="9" fill="#111">-</text>
<text x="561.9" y="395.9" text-anchor="middle" font-size="9" fill="#111">-</text>
<text x="574.9" y="395.9" text-anchor="middle" font-size="9" fill="#111">+</text>
<text x="588" y="395.9" text-anchor="middle" font-size="9" fill="#111">-</text>
<text x="609.9" y="395.9" text-anchor="middle" font-size="9" fill="#111">-</text>
<text x="623.1" y="395.9" text-anchor="middle" font-size="9" fill="#111">-</text>
<text x="636.2" y="395.9" text-anchor="middle" font-size="9" fill="#111">-</text>
<text x="649.3" y="395.9" text-anchor="middle" font-size="9" fill="#111">-</text>
<text x="662.2" y="395.9" text-anchor="middle" font-size="9" fill="#111">+</text>
<text x="675.4" y="395.9" text-anchor="middle" font-size="9" fill="#111">-</text>
<text x="473.1" y="404.1" font-size="9" fill="#111">SEL</text>
<text x="522.9" y="405" text-anchor="middle" font-size="9" fill="#111">-</text>
<text x="535.8" y="405" text-anchor="middle" font-size="9" fill="#111">-</text>
<text x="548.8" y="405" text-anchor="middle" font-size="9" fill="#111">-</text>
<text x="561.9" y="405" text-anchor="middle" font-size="9" fill="#111">-</text>
<text x="574.9" y="405" text-anchor="middle" font-size="9" fill="#111">-</text>
<text x="588" y="405" text-anchor="middle" font-size="9" fill="#111">+</text>
<text x="609.9" y="405" text-anchor="middle" font-size="9" fill="#111">-</text>
<text x="623.1" y="405" text-anchor="middle" font-size="9" fill="#111">-</text>
<text x="636.2" y="405" text-anchor="middle" font-size="9" fill="#111">-</text>
<text x="649.3" y="405" text-anchor="middle" font-size="9" fill="#111">-</text>
<text x="662.2" y="405" text-anchor="middle" font-size="9" fill="#111">-</text>
<text x="675.4" y="405" text-anchor="middle" font-size="9" fill="#111">+</text>
<path d="M522 409.9H587" stroke="#000" stroke-width="1.4"/>
<text x="549.1" y="421.6" font-size="9" fill="#111">WT</text>
<path d="M610.4 409.7H674.5" stroke="#000" stroke-width="1.4"/>
<text x="628.2" y="421.5" font-size="9" fill="#111"><tspan font-style="italic">XPO1</tspan> KD</text>
</svg>
</body></html>
